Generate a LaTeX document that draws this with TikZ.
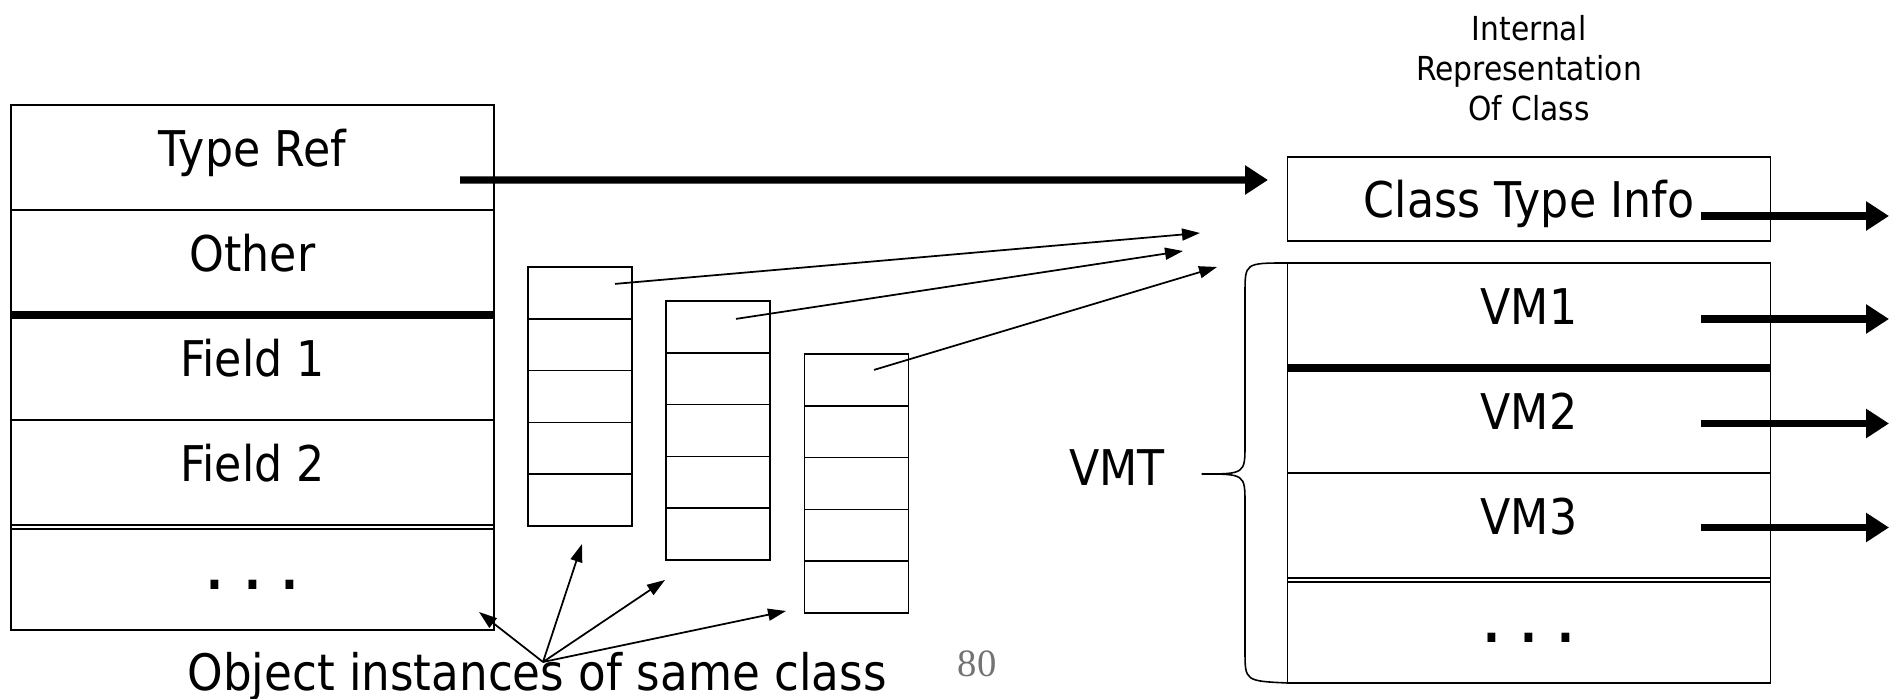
\documentclass[tikz,border=0pt]{standalone}
\usepackage{fontspec}
\setmainfont[FakeStretch=0.9]{DejaVu Sans}
\newfontfamily\pagefont{Liberation Serif}
\usepackage{tikz}
\usetikzlibrary{arrows.meta, positioning}

\begin{document}
\begin{tikzpicture}[
  row/.style={draw, line width=0.45pt, minimum width=4.83cm, minimum height=1.05cm, inner sep=0pt, outer sep=0pt,
    text height=0.40cm, text depth=0.22cm, font=\fontsize{14}{16}\selectfont},
  cell/.style={draw, line width=0.45pt, minimum width=1.04cm, minimum height=0.518cm, inner sep=0pt, outer sep=0pt},
  bigarrow/.style={-{Triangle[length=0.23cm, width=0.28cm]}, line width=2pt},
  thinarrow/.style={-{Triangle[length=0.18cm, width=0.12cm]}, line width=0.5pt},
  divider/.style={line width=2pt}
]
  \useasboundingbox (0,0) rectangle (19,6.99);
  % object layout
  \node[row] (TypeRef) at (2.525,5.415) {Type Ref};
  \node[row, below=0pt of TypeRef] (Other) {Other};
  \node[row, below=0pt of Other] (Field1) {Field 1};
  \node[row, below=0pt of Field1] (Field2) {Field 2};
  \node[row, below=0pt of Field2, text depth=0.15cm] (ODots) {\textbf{. . .}};
  \draw[divider] (Other.south west) -- (Other.south east);
  \draw[line width=0.45pt] ([yshift=-0.04cm]ODots.north west) -- ([yshift=-0.04cm]ODots.north east);

  % three small objects
  \foreach \i in {1,...,5} {
    \node[cell] (A\i) at (5.80,{4.061-0.518*(\i-1)}) {};
    \node[cell] (B\i) at (7.18,{3.721-0.518*(\i-1)}) {};
    \node[cell] (C\i) at (8.565,{3.191-0.518*(\i-1)}) {};
  }

  % class representation
  \node[align=center, font=\fontsize{9.4}{11.4}\selectfont] (Title) at (15.29,6.31) {Internal\\Representation\\Of Class};
  \node[row, minimum height=0.84cm, text height=0.38cm, text depth=0cm] (ClassInfo) at (15.29,5.0) {Class Type Info};
  \node[row] (VM1) at (15.29,3.835) {VM1};
  \node[row, below=0pt of VM1] (VM2) {VM2};
  \node[row, below=0pt of VM2] (VM3) {VM3};
  \node[row, below=0pt of VM3, text depth=0.15cm] (VDots) {\textbf{. . .}};
  \draw[divider] (VM1.south west) -- (VM1.south east);
  \draw[line width=0.45pt] ([yshift=-0.04cm]VDots.north west) -- ([yshift=-0.04cm]VDots.north east);

  % brace and label
  \coordinate (tip) at (12.015,2.25);
  \draw[line width=0.45pt] (VM1.north west) .. controls (12.45,4.36) .. (12.45,4.06) -- (12.45,2.55)
    .. controls (12.45,2.25) .. (tip) .. controls (12.45,2.25) .. (12.45,1.95) -- (12.45,0.48)
    .. controls (12.45,0.18) .. (VDots.south west);
  \node[font=\fontsize{14}{16}\selectfont] (VMT) at (11.17,2.31) {VMT};

  % pointers
  \coordinate (ctiin) at (12.68,5.19);
  \draw[bigarrow] ([shift={(-0.34,-0.225)}]TypeRef.east) -- (ctiin);
  \foreach \n/\dy in {ClassInfo/-0.17, VM1/-0.035, VM2/-0.03, VM3/-0.02}
    \draw[bigarrow] ([shift={(1.72,\dy)}]\n.center) -- ++(1.88,0);

  \coordinate (t1) at (12.00,4.66);
  \coordinate (t2) at (11.83,4.48);
  \coordinate (t3) at (12.17,4.32);
  \draw[thinarrow] ([shift={(0.35,0.09)}]A1.center) -- (t1);
  \draw[thinarrow] ([shift={(0.18,0.08)}]B1.center) -- (t2);
  \draw[thinarrow] ([shift={(0.175,0.1)}]C1.center) -- (t3);

  % caption
  \node[font=\fontsize{14.3}{16}\selectfont, anchor=base] (Instances) at (5.37,0.08) {Object instances of same class};
  \coordinate (src) at (5.43,0.37);
  \coordinate (o0) at (4.79,0.87);
  \coordinate (o1) at (5.82,1.55);
  \coordinate (o2) at (6.65,1.19);
  \coordinate (o3) at (7.86,0.88);
  \foreach \t in {o0,o1,o2,o3}
    \draw[thinarrow] (src) -- (\t);

  \node[font=\pagefont\fontsize{11}{12}\selectfont, text=black!55] (PageNo) at (9.77,0.35) {80};
\end{tikzpicture}
\end{document}
